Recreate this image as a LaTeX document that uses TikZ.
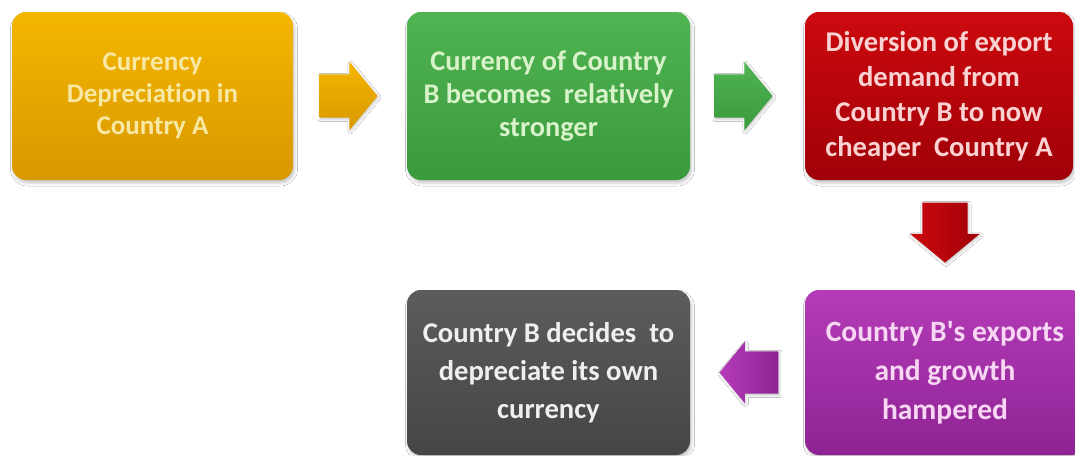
\documentclass[tikz,border=0pt]{standalone}
\usepackage{fontspec}
\setmainfont{Carlito}[Ligatures=NoCommon, Contextuals=NoAlternate]
\usetikzlibrary{shapes.arrows,shadows.blur,calc}

\definecolor{orgTop}{HTML}{F5B600}
\definecolor{orgBot}{HTML}{D89800}
\definecolor{orgTxt}{HTML}{F8E8A4}
\definecolor{grnTop}{HTML}{50B452}
\definecolor{grnBot}{HTML}{3A9A3C}
\definecolor{grnTxt}{HTML}{D8F2CA}
\definecolor{redTop}{HTML}{CC0A0E}
\definecolor{redBot}{HTML}{A00008}
\definecolor{redTxt}{HTML}{FAD2D2}
\definecolor{purTop}{HTML}{B43CB8}
\definecolor{purBot}{HTML}{8E2394}
\definecolor{purTxt}{HTML}{F7D6F3}
\definecolor{gryTop}{HTML}{5C5C5C}
\definecolor{gryBot}{HTML}{454545}
\definecolor{gryTxt}{HTML}{EFEFEF}

\tikzset{
  stepbox/.style={rectangle, rounded corners=14pt, inner sep=0pt,
    align=center,
    blur shadow={shadow xshift=1.5pt, shadow yshift=-3pt,
      shadow blur radius=3pt, shadow opacity=22}},
  % shaft thickness comes from the (empty) text box height
  blockarrow/.style={single arrow, draw=none, inner sep=0pt,
    text width=0pt, text depth=0pt, single arrow tip angle=101,
    anchor=tip,
    blur shadow={shadow xshift=1pt, shadow yshift=-1.5pt,
      shadow blur radius=2.5pt, shadow opacity=22}},
  txtA/.style={font=\fontsize{27}{32}\selectfont\bfseries},
  txtB/.style={font=\fontsize{28.4}{33}\selectfont\bfseries},
  txtC/.style={font=\fontsize{28.6}{35}\selectfont\bfseries},
  txtD/.style={font=\fontsize{29.5}{39}\selectfont\bfseries},
  txtE/.style={font=\fontsize{28.6}{38}\selectfont\bfseries}
}

\begin{document}
\begin{tikzpicture}[x=1pt,y=-1pt]
  \useasboundingbox[fill=white] (0,0) rectangle (1075,455);
  \clip (0,0) rectangle (1075,455);

  % top row
  \node[stepbox, txtA, minimum width=281pt, minimum height=168pt,
        top color=orgTop, bottom color=orgBot, text=orgTxt]
    (b1) at (152.5,96) {Currency\\Depreciation in\\Country A};
  \node[stepbox, txtB, minimum width=283pt, minimum height=168pt,
        top color=grnTop, bottom color=grnBot, text=grnTxt]
    (b2) at (548.5,96) {Currency of Country\\B becomes\ \ relatively\\stronger};
  \node[stepbox, txtC, minimum width=268pt, minimum height=168pt,
        top color=redTop, bottom color=redBot, text=redTxt]
    (b3) at (939,96) {Diversion of export\\demand from\\Country B to now\\cheaper\ \ Country A};

  % bottom row
  \node[stepbox, txtD, minimum width=280pt, minimum height=165pt,
        top color=purTop, bottom color=purBot, text=purTxt]
    (b4) at (945,372.5) {Country B\textquotesingle s exports\\and growth\\hampered};
  \node[stepbox, txtE, minimum width=283pt, minimum height=165pt,
        top color=gryTop, bottom color=gryBot, text=gryTxt]
    (b5) at (548.5,372.5) {Country B decides\ \ to\\depreciate its own\\currency};

  % block arrows between the steps, placed by their tips
  \node[blockarrow, text height=43pt, single arrow head extend=12.5pt,
        minimum height=58pt, top color=orgTop, bottom color=orgBot]
    (a1) at ($(b2.west)+(-29,0)$) {};
  \node[blockarrow, text height=43pt, single arrow head extend=12.5pt,
        minimum height=58pt, top color=grnTop, bottom color=grnBot]
    (a2) at ($(b3.west)+(-32,0)$) {};
  \node[blockarrow, text height=45pt, single arrow head extend=12pt,
        minimum height=60pt, rotate=-90,
        left color=redTop, right color=redBot]
    (a3) at ($(b4.north)+(0,-27)$) {};
  \node[blockarrow, text height=42pt, single arrow head extend=9.5pt,
        minimum height=59pt, rotate=180,
        left color=purTop, right color=purBot]
    (a4) at ($(b5.east)+(29,0)$) {};
\end{tikzpicture}
\end{document}
